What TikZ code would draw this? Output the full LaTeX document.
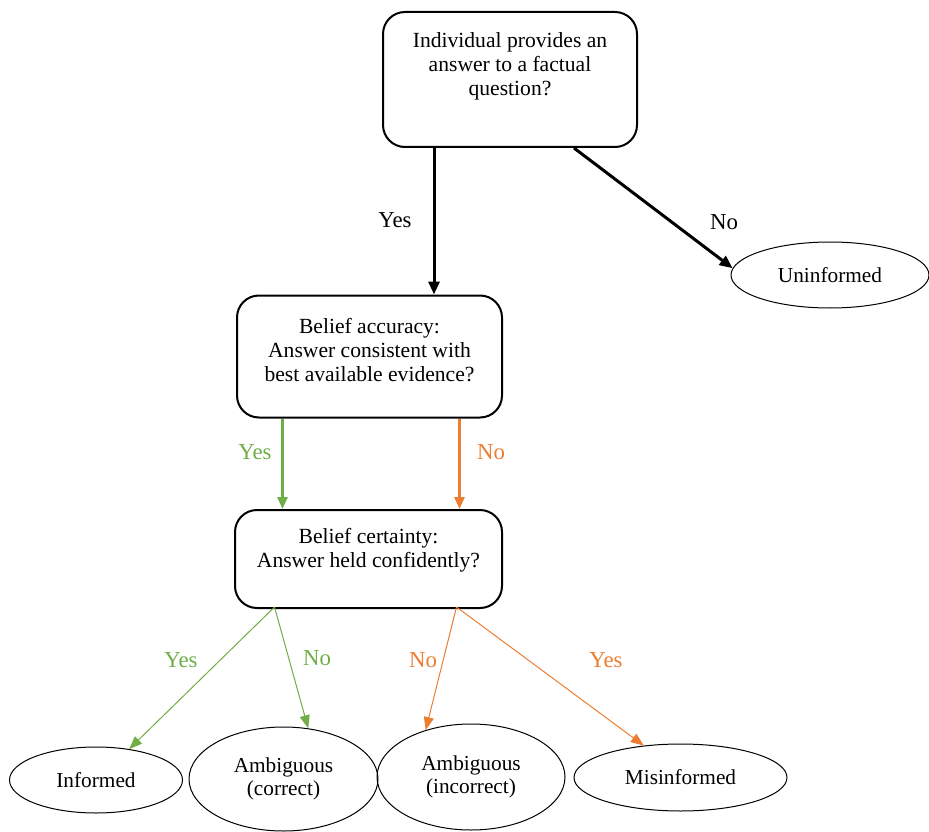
\documentclass[tikz,border=0pt]{standalone}
\usepackage{fontspec}
\setmainfont{Liberation Serif}
\usetikzlibrary{shapes.geometric,arrows.meta,calc}
\definecolor{ygreen}{RGB}{112,173,71}
\definecolor{yorange}{RGB}{237,125,49}
\tikzset{
  qbox/.style={draw=black, line width=2pt, rounded corners=22pt, inner sep=0pt},
  txt/.style={align=center, inner sep=0pt, font=\fontsize{21.6}{23.7}\selectfont},
  oval/.style={draw=black, line width=1pt, ellipse, inner sep=0pt, align=center,
    font=\fontsize{21.3}{23.7}\selectfont},
  bigarrow/.style={line width=3pt, -{Triangle[length=13pt,width=11pt]}},
  medarrow/.style={line width=2.6pt, -{Triangle[length=12pt,width=10pt]}},
  thinarrow/.style={line width=1pt, -{Triangle[length=13pt,width=10pt]}},
  lab/.style={inner sep=0pt, font=\fontsize{22.8}{24}\selectfont}
}
\begin{document}
\begin{tikzpicture}[x=1pt,y=-1pt]
\useasboundingbox (0,0) rectangle (929,832);

% question boxes
\node[qbox, minimum width=254pt, minimum height=135pt] (top) at (510,79.5) {};
\node[txt] (toptxt) at (510,66.5) {Individual provides an\\answer to a factual\\question?};

\node[qbox, minimum width=265pt, minimum height=122pt] (acc) at (369.5,356.5) {};
\node[txt] (acctxt) at (369.5,350) {Belief accuracy:\\Answer consistent with\\best available evidence?};

\node[qbox, minimum width=267pt, minimum height=98pt] (cert) at (368.5,559) {};
\node[txt] (certtxt) at (368.5,550) {Belief certainty:\\Answer held confidently?};

% outcome ellipses
\node[oval, minimum width=198pt, minimum height=66pt] (uninf) at (830,275) {Uninformed};
\node[oval, minimum width=173pt, minimum height=66pt] (inf) at (96,780) {Informed};
\node[oval, minimum width=189pt, minimum height=104pt] (ambc) at (283.5,779) {Ambiguous\\(correct)};
\node[oval, minimum width=188pt, minimum height=106pt] (ambi) at (471,777) {Ambiguous\\(incorrect)};
\node[oval, minimum width=213pt, minimum height=67pt] (mis) at (680.5,777.5) {Misinformed};

% top level arrows
\draw[bigarrow] ([xshift=-76pt]top.south) -- ([xshift=-76pt]top.south |- acc.north);
\node[lab] (yes1) at (395,220) {Yes};
\draw[bigarrow] ([xshift=64pt]top.south) -- (uninf.176);
\node[lab] (no1) at (724,222) {No};

% accuracy arrows
\draw[medarrow, ygreen] ([xshift=-87pt]acc.south) -- ([xshift=-87pt]acc.south |- cert.north);
\node[lab, ygreen] (yes2) at (255,452) {Yes};
\draw[medarrow, yorange] ([xshift=90pt]acc.south) -- ([xshift=90pt]acc.south |- cert.north);
\node[lab, yorange] (no2) at (491,452) {No};

% certainty arrows
\draw[thinarrow, ygreen] ([xshift=-94pt,yshift=2pt]cert.south) -- (inf.43);
\node[lab, ygreen] (yes3) at (181,660) {Yes};
\draw[thinarrow, ygreen] ([xshift=-94pt,yshift=2pt]cert.south) -- (ambc.64);
\node[lab, ygreen] (no3) at (317,658) {No};
\draw[thinarrow, yorange] ([xshift=88pt,yshift=2pt]cert.south) -- (ambi.134);
\node[lab, yorange] (no4) at (423,660) {No};
\draw[thinarrow, yorange] ([xshift=88pt,yshift=2pt]cert.south) -- (mis.139);
\node[lab, yorange] (yes4) at (606,660) {Yes};
\end{tikzpicture}
\end{document}
